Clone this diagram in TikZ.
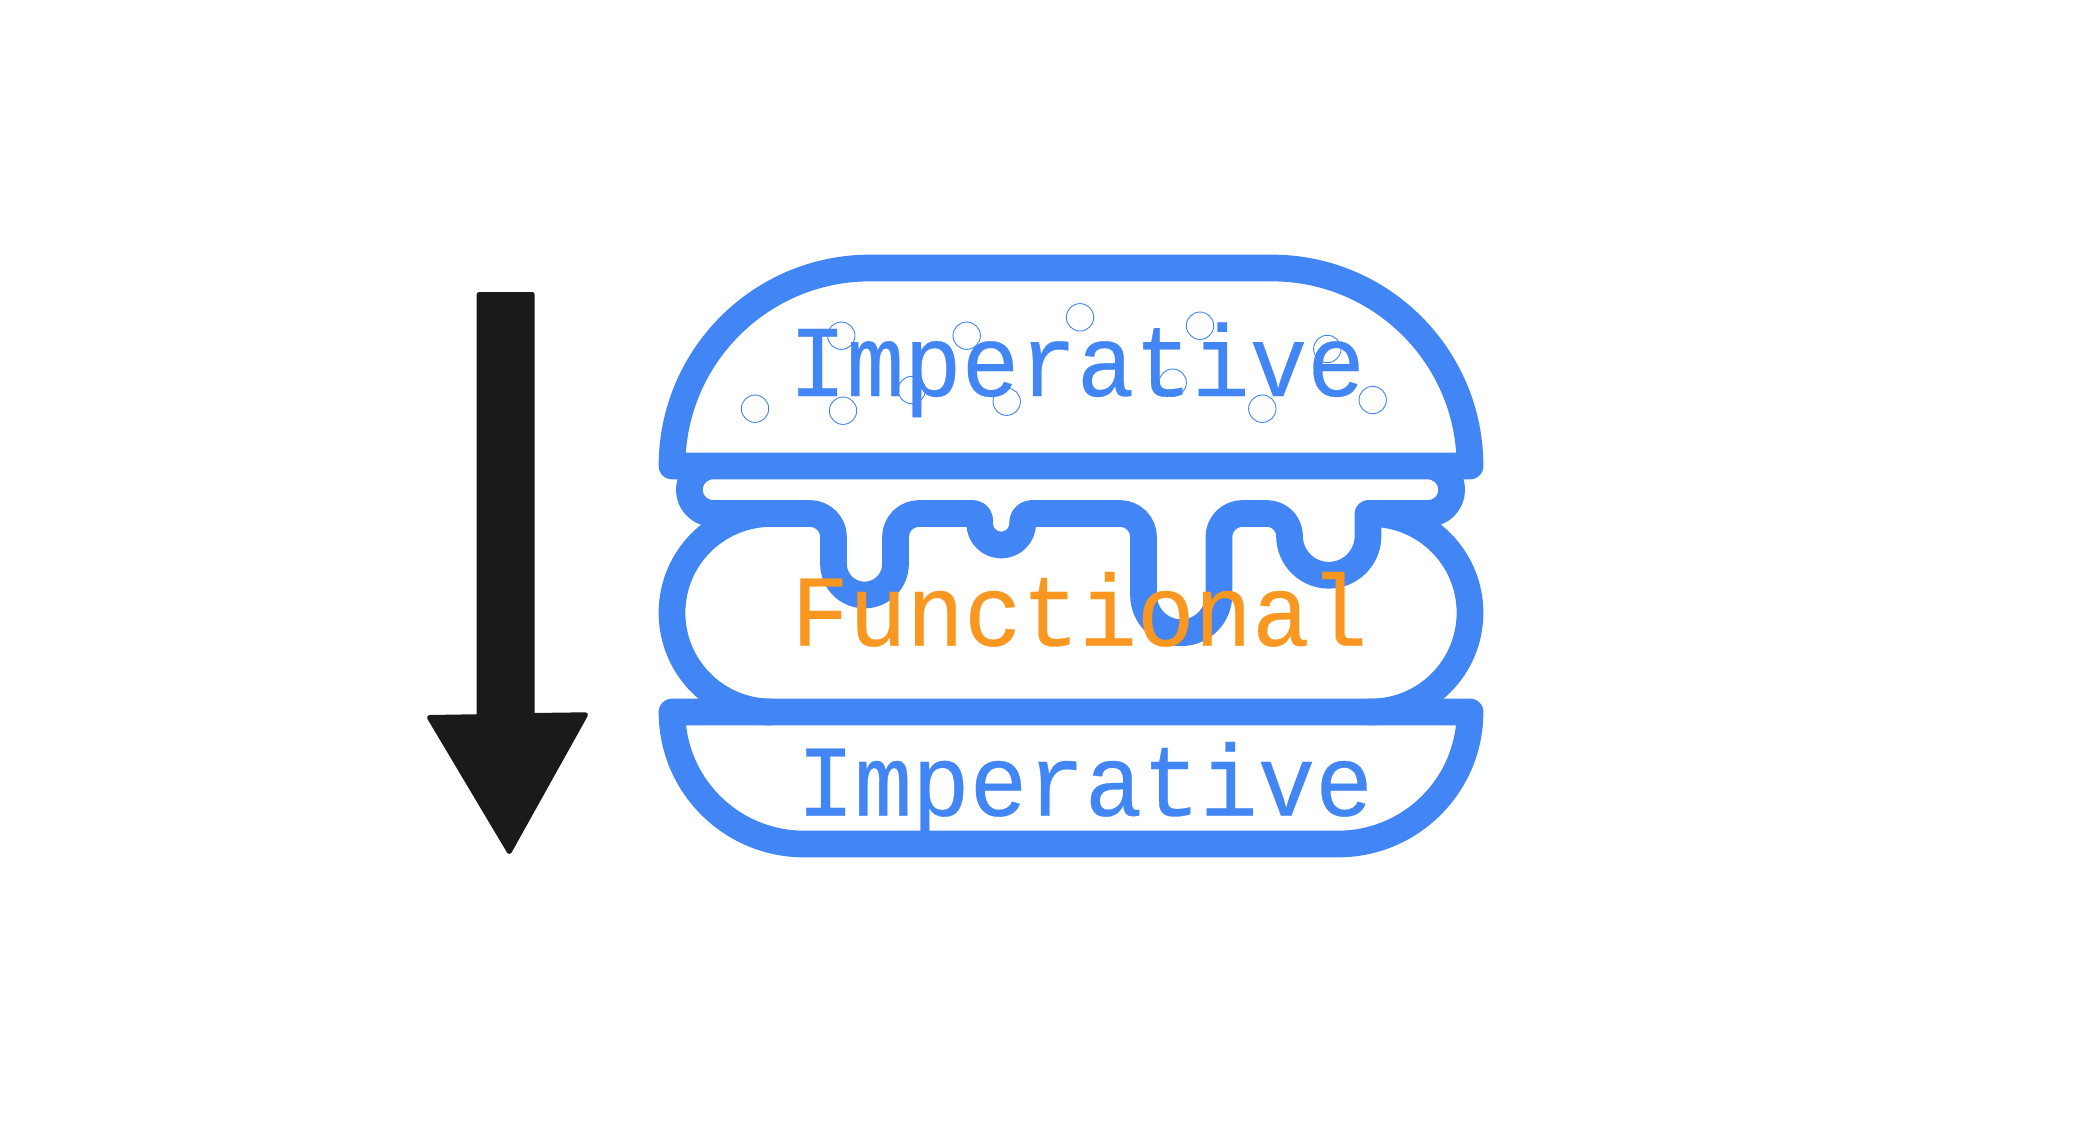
\documentclass[tikz,border=0pt]{standalone}
\usepackage{graphicx}
\usepackage{fontspec}
\newfontfamily\burgerfont[FakeBold=0.3]{Liberation Mono}
\newcommand{\tallword}[1]{\scalebox{1}[1.06]{#1}}
\definecolor{bunblue}{HTML}{4285F4}
\definecolor{fnorange}{HTML}{F99721}
\definecolor{arrowblack}{HTML}{1A1A1A}
\tikzset{
  burgerline/.style={draw=bunblue,line width=13.35pt,line join=round,line cap=round},
  seed/.style={draw=bunblue,line width=0.45pt},
  codetext/.style={anchor=base,inner sep=0pt,font=\burgerfont\fontsize{48}{48}\selectfont},
  bigarrow/.style={fill=arrowblack,draw=arrowblack,line width=2.5pt,line join=round}
}
\begin{document}
\begin{tikzpicture}[x=.5pt,y=.5pt,yscale=-1]
\useasboundingbox[fill=white] (0,0) rectangle (2073,1141);
% arrow
\path[bigarrow] (479.2,294.5) -- (532.2,294.5) -- (532.2,715.5) -- (585.5,714.8) -- (509.3,851.5) -- (429.5,717.5) -- (479.2,716.7) -- cycle;
% patty
\path[burgerline] (771.25,513.5) arc[start angle=270,end angle=90,radius=99.25];
\path[burgerline] (1370.75,513.5) arc[start angle=270,end angle=450,radius=99.25];
% cheese
\path[burgerline] (704.91,467.48)
  arc[start angle=250,end angle=90,radius=23.65] -- (810,513.5)
  arc[start angle=270,end angle=360,radius=23.5] -- (833.5,564)
  arc[start angle=180,end angle=0,radius=31] -- (895.5,537)
  arc[start angle=180,end angle=270,radius=23.5] -- (973,513.5)
  arc[start angle=270,end angle=360,radius=6.7] -- (979.7,523.5)
  arc[start angle=180,end angle=0,radius=21.5] -- (1022.7,522.2)
  arc[start angle=180,end angle=270,radius=8.7] -- (1120,513.5)
  arc[start angle=270,end angle=360,radius=23.5] -- (1143.5,595)
  arc[start angle=180,end angle=0,radius=37.7] -- (1218.9,537)
  arc[start angle=180,end angle=270,radius=23.5] -- (1267,513.5)
  arc[start angle=270,end angle=360,radius=22.5]
  arc[start angle=180,end angle=0,radius=39.25] -- (1368,513.5) -- (1428,513.5)
  arc[start angle=90,end angle=-70,radius=23.65];
% top bun
\path[burgerline] (672,466) arc[start angle=180,end angle=270,radius=198] -- (1272,268)
  arc[start angle=270,end angle=360,radius=198] -- cycle;
% bottom bun
\path[burgerline] (672,712) -- (1470,712) arc[start angle=0,end angle=90,radius=132] -- (804,844)
  arc[start angle=90,end angle=180,radius=132] -- cycle;
% texts
\node[codetext,text=bunblue] (topbun) at (1076.9,396) {\tallword{Imperative}};
\node[codetext,text=fnorange] (filling) at (1079.4,645.7) {\tallword{Functional}};
\node[codetext,text=bunblue] (lowerbun) at (1084.9,815.7) {\tallword{Imperative}};
% seeds
\foreach \sx/\sy in {841.3/335.7,966.7/335.7,911.7/390,1006.7/401.7,755/408.7,843/410.7,1080/317.3,1200/325.7,1327.3/349,1172.7/382.7,1262.3/408.7,1372.7/400}
  \path[seed] (\sx,\sy) circle[radius=13.7];
\end{tikzpicture}
\end{document}
